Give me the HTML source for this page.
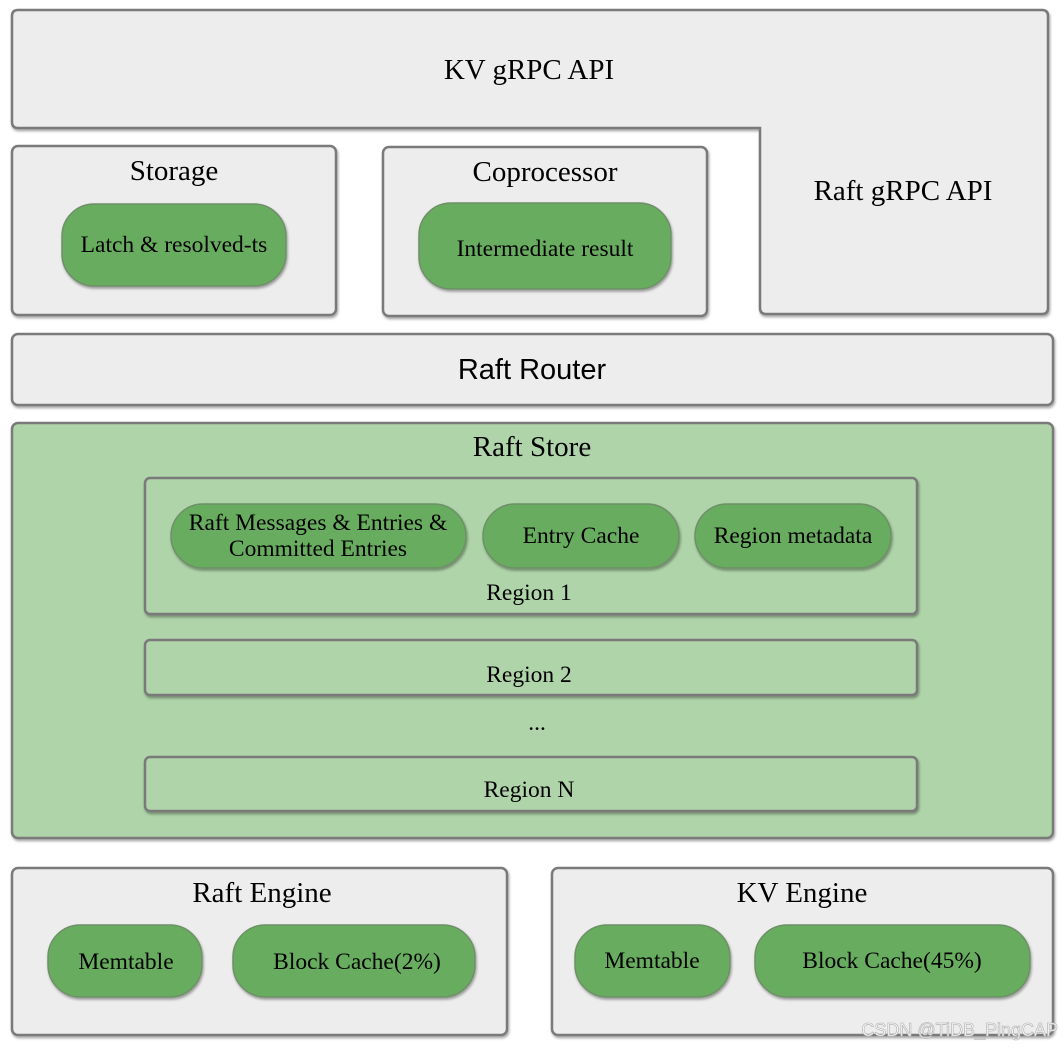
<!DOCTYPE html>
<html><head><meta charset="utf-8"><style>
html,body{margin:0;padding:0;background:#fff;}
svg{display:block;}
text{font-family:"Liberation Serif",serif;fill:#000;}
.box{fill:#ededed;stroke:#7a7a7a;stroke-width:2.5;}
.gbox{fill:#afd4a9;stroke:#7a7a7a;stroke-width:2.5;}
.pill{fill:#67ad5e;stroke:#6e8f68;stroke-width:1.5;}
</style></head><body>
<svg width="1064" height="1048" viewBox="0 0 1064 1048" xmlns="http://www.w3.org/2000/svg">
<defs><filter id="sh" x="-5%" y="-5%" width="110%" height="120%"><feDropShadow dx="1" dy="2" stdDeviation="1.2" flood-color="#000" flood-opacity="0.35"/></filter></defs>
<g filter="url(#sh)">
<path class="box" d="M18,10 H1042 Q1048,10 1048,16 V308 Q1048,314 1042,314 H766 Q760,314 760,308 V128 H18 Q12,128 12,122 V16 Q12,10 18,10 Z"/>
<rect class="box" x="12" y="146" width="324" height="169" rx="6"/>
<rect class="box" x="383" y="147" width="324" height="169" rx="6"/>
<rect class="box" x="12" y="334" width="1041" height="71" rx="6"/>
<rect class="gbox" x="12" y="423" width="1041" height="415" rx="6"/>
<rect class="box" x="12" y="868" width="495" height="167" rx="6"/>
<rect class="box" x="552" y="868" width="501" height="167" rx="6"/>
</g>
<text x="529" y="79" font-size="29" text-anchor="middle">KV gRPC API</text>
<text x="903" y="200" font-size="29" text-anchor="middle">Raft gRPC API</text>
<text x="174" y="180" font-size="29" text-anchor="middle">Storage</text>
<text x="545" y="181" font-size="29" text-anchor="middle">Coprocessor</text>
<text x="532" y="379" font-size="29" text-anchor="middle" style="font-family:'Liberation Sans',sans-serif">Raft Router</text>
<text x="532" y="456" font-size="29" text-anchor="middle">Raft Store</text>
<text x="262" y="902" font-size="29" text-anchor="middle">Raft Engine</text>
<text x="802" y="902" font-size="29" text-anchor="middle">KV Engine</text>
<g filter="url(#sh)">
<rect class="pill" x="62" y="204" width="224" height="82" rx="32"/>
<rect class="pill" x="419" y="203" width="252" height="86" rx="32"/>
<rect class="gbox" x="145" y="478" width="772" height="136" rx="5"/>
<rect class="gbox" x="145" y="640" width="772" height="55" rx="5"/>
<rect class="gbox" x="145" y="757" width="772" height="54" rx="5"/>
<rect class="pill" x="48" y="925" width="154" height="72" rx="32"/>
<rect class="pill" x="233" y="925" width="242" height="72" rx="32"/>
<rect class="pill" x="575" y="925" width="155" height="72" rx="32"/>
<rect class="pill" x="755" y="925" width="275" height="72" rx="32"/>
</g>
<g filter="url(#sh)">
<rect class="pill" x="171" y="504" width="295" height="64" rx="32"/>
<rect class="pill" x="483" y="504" width="196" height="64" rx="32"/>
<rect class="pill" x="695" y="504" width="196" height="64" rx="32"/>
</g>
<g font-size="23.5" text-anchor="middle">
<text x="174" y="252">Latch &amp; resolved-ts</text>
<text x="545" y="256">Intermediate result</text>
<text x="318" y="530">Raft Messages &amp; Entries &amp;</text>
<text x="318" y="556">Committed Entries</text>
<text x="581" y="543">Entry Cache</text>
<text x="793" y="543">Region metadata</text>
<text x="529" y="600">Region 1</text>
<text x="529" y="682">Region 2</text>
<text x="537" y="730">...</text>
<text x="529" y="797">Region N</text>
<text x="126" y="969">Memtable</text>
<text x="357" y="969">Block Cache(2%)</text>
<text x="652" y="968">Memtable</text>
<text x="892" y="968">Block Cache(45%)</text>
</g>
<text x="1058" y="1036" font-size="18" text-anchor="end" style="font-family:'Liberation Sans',sans-serif;fill:#fff;stroke:#bbb;stroke-width:0.8">CSDN @TiDB_PingCAP</text>
</svg>
</body></html>
